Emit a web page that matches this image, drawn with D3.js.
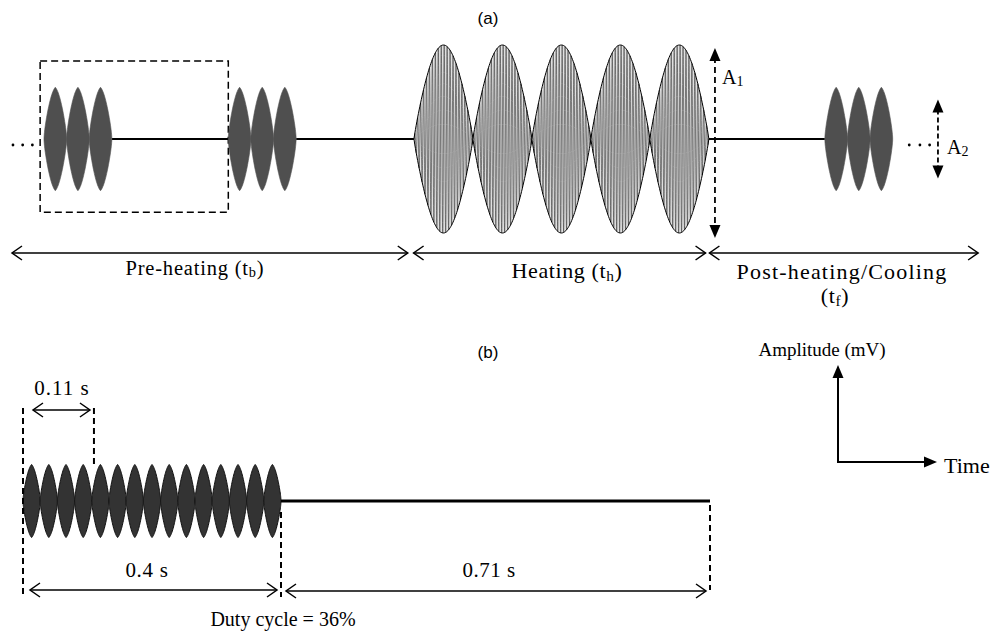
<!DOCTYPE html>
<html><head><meta charset="utf-8">
<script src="https://cdn.jsdelivr.net/npm/d3@7"></script>
<style>body{margin:0;background:#fff}svg{display:block}</style>
</head><body>
<svg id="c" width="997" height="631"></svg>
<script>
// ---------------- data ----------------
// Panel (a): abstract timeline units
const phaseNames = ["Pre-heating", "Heating", "Post-heating/Cooling"];
const phaseSubs = ["b", "h", "f"];
const phaseStart = [0, 41.4, 71.9];
const phaseEnd = [40.8, 71.5, 99.6];
const burstStarts = [3.3, 22.3, 83.8];
const burstAmps = [0.55, 0.55, 0.55];
const pulsesPerBurst = 3;
const pulseWidth = 2.33;
const heatingStart = 41.44;
const heatingLobes = 5;
const heatingLobeWidth = 6.08;
const heatingAmp = 1.0;      // A1
const carrierPerLobe = 10;
const a2Amp = 0.4;           // A2 marker half-height
const dotsLeft = [0.1, 1.1, 2.1];
const dotsRight = [92.5, 93.6, 94.6];
// Panel (b): seconds
const onTime = 0.4;
const offTime = 0.71;
const period = 0.11;
const pulsesB = 15;
const dutyCycle = 36;

// ---------------- setup ----------------
const svg = d3.select("#c");
const serif = "'Liberation Serif','Times New Roman',serif";
const sans = "'Liberation Sans',Arial,sans-serif";

const xA = d3.scaleLinear().domain([0, 100]).range([12, 982]);
const yA = d3.scaleLinear().domain([-1, 1]).range([233, 45]);
const xB = d3.scaleLinear().domain([0, onTime, onTime + offTime]).range([23, 281, 710]);
const yB = d3.scaleLinear().domain([-1, 1]).range([537.5, 464.5]);

// leaf-shaped pulse: blend of a circular-arc lens and a sine envelope
function leafPts(x0, w, amp, xs, ys, n, mix) {
  const wpx = xs(x0 + w) - xs(x0), hpx = Math.abs(ys(amp) - ys(0));
  const R = (wpx * wpx / 4 + hpx * hpx) / wpx;
  return d3.range(n + 1).map(i => {
    const t = (1 - Math.cos(Math.PI * i / n)) / 2;
    const xp = t * wpx, d = Math.min(xp, wpx - xp);
    const lens = Math.min(1, Math.sqrt(Math.max(0, R * R - (d - R) * (d - R))) / hpx);
    return {x: x0 + t * w, e: amp * (mix * lens + (1 - mix) * Math.sin(Math.PI * t))};
  });
}
function fullPts(x0, w, amp, n) {
  return d3.range(n + 1).map(i => { const t = i / n; return {x: x0 + t * w, e: amp * Math.pow(Math.sin(Math.PI * t), 0.9)}; });
}
function openHead(g, x, y, dir, len = 10, hw = 7) {
  g.append("path").attr("d", `M${x - dir * len},${y - hw}L${x},${y}L${x - dir * len},${y + hw}`)
    .attr("fill", "none").attr("stroke", "#000").attr("stroke-width", 1.5);
}
function dblArrow(g, x1, x2, y, w = 1.5) {
  g.append("line").attr("x1", x1).attr("x2", x2).attr("y1", y).attr("y2", y).attr("stroke", "#000").attr("stroke-width", w);
  openHead(g, x1, y, -1); openHead(g, x2, y, 1);
}
function triV(g, x, y, dir) { // dir -1 up, +1 down
  g.append("path").attr("d", `M${x},${y}L${x - 5.5},${y - dir * 13}L${x + 5.5},${y - dir * 13}Z`).attr("fill", "#000");
}
function triH(g, x, y) {
  g.append("path").attr("d", `M${x},${y}L${x - 13},${y - 5.5}L${x - 13},${y + 5.5}Z`).attr("fill", "#000");
}
function subText(g, x, y, main, sub, after, size, anchor, ls) {
  const t = g.append("text").attr("x", x).attr("y", y).attr("font-family", serif)
    .attr("font-size", size).attr("text-anchor", anchor || "start").attr("letter-spacing", ls || 0);
  t.append("tspan").text(main);
  t.append("tspan").attr("font-size", size * 0.7).attr("dy", size * 0.12).text(sub);
  if (after) t.append("tspan").attr("dy", -size * 0.12).text(after);
  return t;
}

// ---------------- panel (a) ----------------
const gA = svg.append("g");
svg.append("text").attr("x", 488).attr("y", 24).attr("text-anchor", "middle")
  .attr("font-family", sans).attr("font-size", 17).text("(a)");

// dashed box around one cycle
gA.append("rect").attr("x", xA(burstStarts[0] - 0.4)).attr("y", yA(0.83))
  .attr("width", xA(burstStarts[1]) - xA(burstStarts[0] - 0.4)).attr("height", yA(-0.78) - yA(0.83))
  .attr("fill", "none").attr("stroke", "#000").attr("stroke-width", 1.5).attr("stroke-dasharray", "7,4");

// baselines
const baseSegs = [
  [burstStarts[0] + pulsesPerBurst * pulseWidth, burstStarts[1]],
  [burstStarts[1] + pulsesPerBurst * pulseWidth, heatingStart],
  [heatingStart + heatingLobes * heatingLobeWidth, burstStarts[2]]
];
gA.selectAll("line.base").data(baseSegs).join("line")
  .attr("x1", d => xA(d[0])).attr("x2", d => xA(d[1])).attr("y1", yA(0)).attr("y2", yA(0))
  .attr("stroke", "#000").attr("stroke-width", 2.2);

// bursts
const areaA = d3.area().x(d => xA(d.x)).y0(d => yA(-d.e)).y1(d => yA(d.e));
burstStarts.forEach((s, bi) => {
  d3.range(pulsesPerBurst).forEach(k => {
    gA.append("path").attr("d", areaA(leafPts(s + k * pulseWidth, pulseWidth, burstAmps[bi], xA, yA, 60, 0.5)))
      .attr("fill", "#4f4f4f").attr("stroke", "#4f4f4f").attr("stroke-width", 0.6);
  });
});

// heating lobes with carrier
d3.range(heatingLobes).forEach(k => {
  const x0 = heatingStart + k * heatingLobeWidth;
  const pts = fullPts(x0, heatingLobeWidth, heatingAmp, 80);
  gA.append("path").attr("d", areaA(pts)).attr("fill", "#e0e0e0").attr("stroke", "none");
  const n = 800;
  const car = d3.range(n + 1).map(i => {
    const t = i / n;
    return [x0 + t * heatingLobeWidth, heatingAmp * Math.pow(Math.sin(Math.PI * t), 0.9) * Math.sin(2 * Math.PI * carrierPerLobe * t * 2)];
  });
  gA.append("path").attr("d", d3.line().x(d => xA(d[0])).y(d => yA(d[1]))(car))
    .attr("fill", "none").attr("stroke", "#4a4a4a").attr("stroke-width", 0.7);
  gA.append("path").attr("d", areaA(pts)).attr("fill", "none").attr("stroke", "#000").attr("stroke-width", 1);
});

// dots
gA.selectAll("circle.dl").data(dotsLeft.concat(dotsRight)).join("circle")
  .attr("cx", d => xA(d)).attr("cy", yA(0) + 6).attr("r", 1.4).attr("fill", "#000");

// A1 marker
const a1x = xA(72.47);
gA.append("line").attr("x1", a1x).attr("x2", a1x).attr("y1", yA(heatingAmp) + 12).attr("y2", yA(-heatingAmp) - 8)
  .attr("stroke", "#000").attr("stroke-width", 1.8).attr("stroke-dasharray", "6,4");
triV(gA, a1x, yA(heatingAmp) + 3, -1);
triV(gA, a1x, yA(-heatingAmp) + 5, 1);
subText(gA, xA(73.2), 84, "A", "1", null, 20);

// A2 marker
const a2x = xA(95.46);
gA.append("line").attr("x1", a2x).attr("x2", a2x).attr("y1", yA(a2Amp) + 8).attr("y2", yA(-a2Amp) - 8)
  .attr("stroke", "#000").attr("stroke-width", 1.8).attr("stroke-dasharray", "5,3");
triV(gA, a2x, yA(a2Amp) - 2, -1);
triV(gA, a2x, yA(-a2Amp) + 2, 1);
subText(gA, xA(96.4), 154, "A", "2", null, 20);

// phase arrows and labels
phaseNames.forEach((name, i) => {
  dblArrow(gA, xA(phaseStart[i]), xA(phaseEnd[i]), 253);
});
subText(gA, 195, 275, phaseNames[0] + " (t", phaseSubs[0], ")", 20.5, "middle", 0.8);
subText(gA, 567, 278, phaseNames[1] + " (t", phaseSubs[1], ")", 22, "middle", 0.6);
gA.append("text").attr("x", 842).attr("y", 279).attr("text-anchor", "middle").attr("letter-spacing", 1.2)
  .attr("font-family", serif).attr("font-size", 22).text(phaseNames[2]);
subText(gA, 835, 303, "(t", phaseSubs[2], ")", 22, "middle", 0.6);

// amplitude/time legend
const gL = svg.append("g");
gL.append("text").attr("x", 822).attr("y", 356).attr("text-anchor", "middle")
  .attr("font-family", serif).attr("font-size", 19).text("Amplitude (mV)");
gL.append("path").attr("d", "M838,368L838,462L926,462").attr("fill", "none").attr("stroke", "#000").attr("stroke-width", 2);
triV(gL, 838, 365, -1);
triH(gL, 937, 462);
gL.append("text").attr("x", 944).attr("y", 473).attr("font-family", serif).attr("font-size", 22).text("Time");

// ---------------- panel (b) ----------------
const gB = svg.append("g");
svg.append("text").attr("x", 488).attr("y", 358).attr("text-anchor", "middle")
  .attr("font-family", sans).attr("font-size", 17).text("(b)");

const areaB = d3.area().x(d => xB(d.x)).y0(d => yB(-d.e)).y1(d => yB(d.e));
const pw = onTime / pulsesB;
d3.range(pulsesB).forEach(k => {
  gB.append("path").attr("d", areaB(leafPts(k * pw, pw, 1, xB, yB, 60, 0.5)))
    .attr("fill", "#333").attr("stroke", "#111").attr("stroke-width", 1);
});
gB.append("line").attr("x1", xB(onTime)).attr("x2", xB(onTime + offTime)).attr("y1", yB(0)).attr("y2", yB(0))
  .attr("stroke", "#000").attr("stroke-width", 3);

const dashes = [[0, 408, 597], [period, 408, 468], [onTime, 512, 597], [onTime + offTime, 505, 590]];
gB.selectAll("line.d").data(dashes).join("line")
  .attr("x1", d => xB(d[0])).attr("x2", d => xB(d[0])).attr("y1", d => d[1]).attr("y2", d => d[2])
  .attr("stroke", "#000").attr("stroke-width", 2).attr("stroke-dasharray", "6,4");

dblArrow(gB, xB(0) + 10, xB(period) - 4, 410);
dblArrow(gB, xB(0) + 7, xB(onTime) - 4, 590);
dblArrow(gB, xB(onTime) + 5, xB(onTime + offTime) - 4, 591);

const lab = (x, y, s, size, ls) => gB.append("text").attr("x", x).attr("y", y).attr("text-anchor", "middle")
  .attr("font-family", serif).attr("font-size", size).attr("letter-spacing", ls).text(s);
lab(62, 395, period + " s", 21, 1);
lab(147, 577, onTime + " s", 21, 0.7);
lab(489, 577, offTime + " s", 21, 0.5);
lab(xB(onTime) + 2, 626, "Duty cycle = " + dutyCycle + "%", 20, 0);
</script>
</body></html>
